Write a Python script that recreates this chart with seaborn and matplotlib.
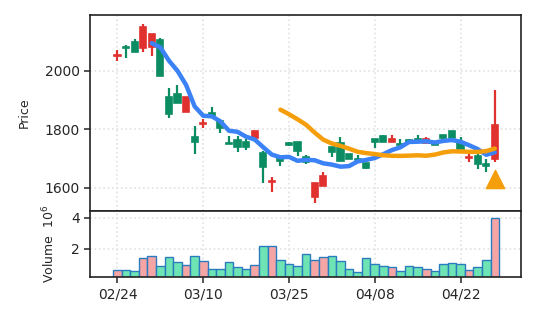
import numpy as np
import pandas as pd
import matplotlib
matplotlib.use("Agg")
import matplotlib.pyplot as plt
import seaborn as sns

dates = ["2025-02-24", "2025-02-25", "2025-02-26", "2025-02-27", "2025-02-28",
         "2025-03-03", "2025-03-04", "2025-03-05", "2025-03-06", "2025-03-07",
         "2025-03-10", "2025-03-11", "2025-03-12", "2025-03-13", "2025-03-14",
         "2025-03-18", "2025-03-19", "2025-03-20", "2025-03-21", "2025-03-24",
         "2025-03-25", "2025-03-26", "2025-03-27", "2025-03-28", "2025-03-31",
         "2025-04-01", "2025-04-02", "2025-04-03", "2025-04-04", "2025-04-07",
         "2025-04-08", "2025-04-09", "2025-04-10", "2025-04-11", "2025-04-14",
         "2025-04-15", "2025-04-16", "2025-04-17", "2025-04-18", "2025-04-21",
         "2025-04-22", "2025-04-23", "2025-04-24", "2025-04-25", "2025-04-28"]
opens = [2051, 2080, 2099, 2077, 2081, 2105, 1909, 1919, 1858, 1774,
         1818, 1854, 1826, 1754, 1761, 1757, 1769, 1718, 1618, 1700,
         1752, 1755, 1704, 1567, 1607, 1738, 1752, 1714, 1697, 1685,
         1765, 1776, 1757, 1748, 1763, 1766, 1752, 1757, 1780, 1794,
         1754, 1702, 1707, 1681, 1698]
highs = [2071, 2088, 2108, 2160, 2126, 2111, 1940, 1950, 1909, 1811,
         1835, 1875, 1826, 1777, 1776, 1766, 1794, 1725, 1635, 1703,
         1756, 1755, 1710, 1615, 1655, 1738, 1773, 1714, 1712, 1685,
         1765, 1780, 1780, 1765, 1765, 1779, 1774, 1760, 1780, 1794,
         1773, 1718, 1714, 1698, 1934]
lows = [2034, 2044, 2063, 2062, 2051, 1982, 1837, 1889, 1858, 1714,
        1805, 1841, 1788, 1749, 1723, 1729, 1769, 1615, 1586, 1675,
        1742, 1709, 1681, 1549, 1607, 1704, 1691, 1698, 1695, 1663,
        1735, 1757, 1757, 1744, 1752, 1760, 1752, 1746, 1765, 1771,
        1731, 1687, 1664, 1653, 1687]
closes = [2054, 2078, 2063, 2150, 2124, 1982, 1851, 1889, 1909, 1757,
          1822, 1841, 1803, 1749, 1738, 1738, 1794, 1670, 1624, 1692,
          1745, 1726, 1689, 1615, 1640, 1723, 1691, 1698, 1695, 1666,
          1756, 1757, 1767, 1744, 1756, 1760, 1765, 1746, 1771, 1771,
          1731, 1705, 1680, 1674, 1814]
volumes = [0.65, 0.65, 0.60, 1.38, 1.55, 0.92, 1.50, 1.18, 0.97, 1.55,
           1.23, 0.73, 0.73, 1.18, 0.82, 0.73, 0.97, 2.20, 2.20, 1.31,
           1.05, 0.92, 1.68, 1.31, 1.50, 1.57, 1.23, 0.69, 0.54, 1.44,
           1.05, 0.92, 0.86, 0.56, 0.92, 0.82, 0.73, 0.60, 1.00, 1.12,
           1.00, 0.65, 0.86, 1.31, 3.96]
signal_dates = ["2025-04-28"]
signal_prices = [1630]
tick_labels = ["02/24", "03/10", "03/25", "04/08", "04/22"]

sns.set_theme(style="ticks")
plt.rcParams["font.family"] = ["DejaVu Sans"]

df = pd.DataFrame({"date": pd.to_datetime(dates), "open": opens, "high": highs,
                   "low": lows, "close": closes, "volume": volumes})
df["idx"] = np.arange(len(df))
df["ma5"] = df["close"].rolling(5).mean()
df["ma20"] = df["close"].rolling(20).mean()
up = df["close"] >= df["open"]

RED = "#e0312f"
GREEN = "#0c8c62"
BLUE = "#3b82f6"
ORANGE = "#f59e0b"

fig = plt.figure(figsize=(5.37, 3.22), dpi=100)
gs = fig.add_gridspec(2, 1, height_ratios=[196, 66], hspace=0,
                      left=90 / 537, right=521 / 537, top=1 - 15 / 322, bottom=1 - 277 / 322)
ax = fig.add_subplot(gs[0])
axv = fig.add_subplot(gs[1], sharex=ax)

for a in (ax, axv):
    a.grid(True, color="#e2e2e2", linestyle=":", linewidth=1.2)
    a.set_axisbelow(True)
    for s in a.spines.values():
        s.set_color("#222222")
        s.set_linewidth(1.2)

ccol = np.where(up, RED, GREEN)
ax.vlines(df["idx"], df["low"], df["high"], colors=ccol, linewidth=1.6, zorder=2)
body_bottom = np.minimum(df["open"], df["close"])
body_h = np.maximum(np.abs(df["close"] - df["open"]), 1.0)
ax.bar(df["idx"], body_h, bottom=body_bottom, width=0.72, color=ccol,
       edgecolor=ccol, linewidth=1.2, zorder=3)

sns.lineplot(data=df, x="idx", y="ma5", ax=ax, color=BLUE, linewidth=3.2, zorder=4)
sns.lineplot(data=df, x="idx", y="ma20", ax=ax, color=ORANGE, linewidth=3.2, zorder=4)

sig = pd.DataFrame({"date": pd.to_datetime(signal_dates), "price": signal_prices})
sig["idx"] = [df.index[df["date"] == d][0] for d in sig["date"]]
sns.scatterplot(data=sig, x="idx", y="price", ax=ax, marker="^", s=170,
                color=ORANGE, edgecolor=ORANGE, zorder=5)

vcol = np.where(up, "#f6a5a5", "#6ee4b4")
axv.bar(df["idx"], df["volume"], width=1.0, color=vcol, edgecolor="#2b7bbf",
        linewidth=1.0, zorder=2)

ax.set_ylim(1520, 2190)
ax.set_yticks([1600, 1800, 2000])
ax.set_ylabel("Price", fontsize=9, labelpad=10)
ax.set_xlabel("")
ax.tick_params(axis="x", labelbottom=False, length=0)
ax.tick_params(axis="y", labelsize=10, length=4, width=1.1)

axv.set_ylim(0.19, 4.43)
axv.set_yticks([2, 4])
axv.set_ylabel("Volume  $10^6$", fontsize=9, labelpad=10)
axv.set_xlabel("")
fmt = df["date"].dt.strftime("%m/%d").tolist()
tpos = [fmt.index(t) for t in tick_labels]
axv.set_xticks(tpos)
axv.set_xticklabels(tick_labels)
axv.tick_params(axis="both", labelsize=10, length=4, width=1.1)
axv.set_xlim(-3.2, 47.05)

fig.savefig("out.png", dpi=100)
